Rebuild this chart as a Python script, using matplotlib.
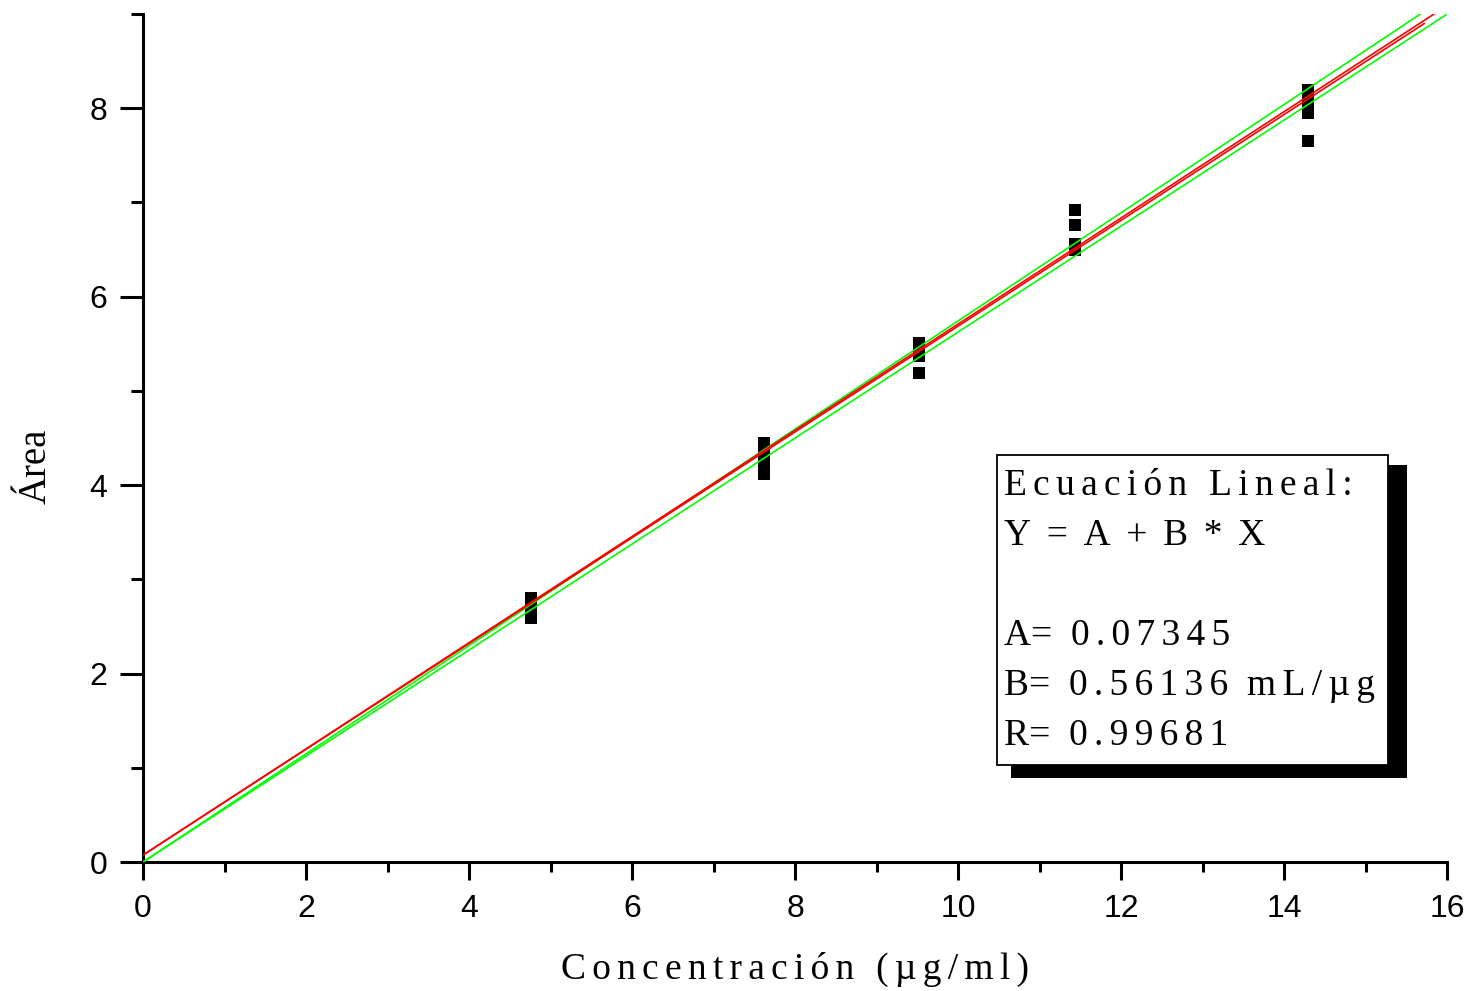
import matplotlib
matplotlib.use("Agg")
import matplotlib.pyplot as plt
from matplotlib.patches import Rectangle
from matplotlib.ticker import MultipleLocator
import numpy as np

# ---- data ----
conc_levels = [4.76, 7.62, 9.52, 11.43, 14.29]
areas_476 = [2.80, 2.76, 2.72, 2.59]
areas_762 = [4.45, 4.38, 4.30, 4.24, 4.12]
areas_952 = [5.51, 5.45, 5.37, 5.19]
areas_1143 = [6.92, 6.76, 6.56, 6.50]
areas_1429 = [8.19, 8.12, 8.04, 7.95, 7.65]
area_groups = [areas_476, areas_762, areas_952, areas_1143, areas_1429]

fit_A = 0.07345
fit_B = 0.56136
fit_R = 0.99681
fit_xmax = 15.72
red2_A = 0.07345
red2_B = 0.5635
green_upper_slope = 0.5742
green_lower_slope = 0.5624

x_ticks = [0, 2, 4, 6, 8, 10, 12, 14, 16]
y_ticks = [0, 2, 4, 6, 8]

W, H = 1473, 991
fig = plt.figure(figsize=(W / 100, H / 100), dpi=100)
ax = fig.add_axes([143 / W, 1 - 862 / H, (1447 - 143) / W, (862 - 14) / H])

serif = ['Liberation Serif', 'DejaVu Serif']
sans = ['Liberation Sans', 'DejaVu Sans']

SP = '\u200a\u200a'

def spaced(s, sp=SP):
    return sp.join(list(s))

# points
for xv, group in zip(conc_levels, area_groups):
    ax.plot([xv] * len(group), group, 's', color='black', ms=9.2, mew=0, zorder=2)

# lines
xl = np.linspace(0, 16.2, 200)
ax.plot(xl, green_upper_slope * xl, color='#00ff00', lw=1.2, zorder=3)
ax.plot(xl, green_lower_slope * xl, color='#00ff00', lw=1.2, zorder=3)
ax.plot(xl, red2_A + red2_B * xl, color='#ff0000', lw=1.2, zorder=4)
xf = np.linspace(0, fit_xmax, 100)
ax.plot(xf, fit_A + fit_B * xf, color='#ff0000', lw=1.2, zorder=4)

ax.set_xlim(0, 16)
ax.set_ylim(0, 9)
ax.set_xticks(x_ticks)
ax.set_yticks(y_ticks)
ax.xaxis.set_minor_locator(MultipleLocator(1))
ax.yaxis.set_minor_locator(MultipleLocator(1))

for s in ['top', 'right']:
    ax.spines[s].set_visible(False)
for s in ['left', 'bottom']:
    ax.spines[s].set_linewidth(2.2)

ax.tick_params(axis='x', which='major', direction='out', length=13, width=2.2, pad=10)
ax.tick_params(axis='x', which='minor', direction='out', length=7, width=2.2)
ax.tick_params(axis='y', which='major', direction='out', length=16.5, width=2.2, pad=9)
ax.tick_params(axis='y', which='minor', direction='out', length=9, width=2.2)
for lab in ax.get_xticklabels() + ax.get_yticklabels():
    lab.set_fontfamily(sans)
    lab.set_fontsize(23)

ax.set_xlabel(spaced('Concentración (µg/ml)'), fontfamily=serif, fontsize=27, labelpad=20)
ax.set_ylabel('Área', fontfamily=serif, fontsize=28)
ax.yaxis.set_label_coords(-0.0675, 0.467)

# legend-like box with shadow
def px_rect(x0, y0, x1, y1, **kw):
    return Rectangle((x0 / W, 1 - y1 / H), (x1 - x0) / W, (y1 - y0) / H,
                     transform=fig.transFigure, **kw)

fig.patches.append(px_rect(1011, 465, 1407, 778, facecolor='black', edgecolor='none', zorder=5))
fig.patches.append(px_rect(997, 455, 1388, 765, facecolor='white', edgecolor='black', lw=1.3, zorder=6))

box_lines = [
    (495, spaced('Ecuación Lineal:')),
    (545, spaced('Y = A + B * X', '\u200a')),
    (645, 'A=  ' + spaced('0.07345')),
    (695, 'B=  ' + spaced('0.56136') + '  ' + spaced('mL/µg')),
    (745, 'R=  ' + spaced(f'{fit_R:.5f}')),
]
for yb, txt in box_lines:
    fig.text(1004 / W, 1 - yb / H, txt, fontfamily=serif, fontsize=27,
             va='baseline', ha='left', zorder=7)

fig.savefig('out.png', dpi=100)
